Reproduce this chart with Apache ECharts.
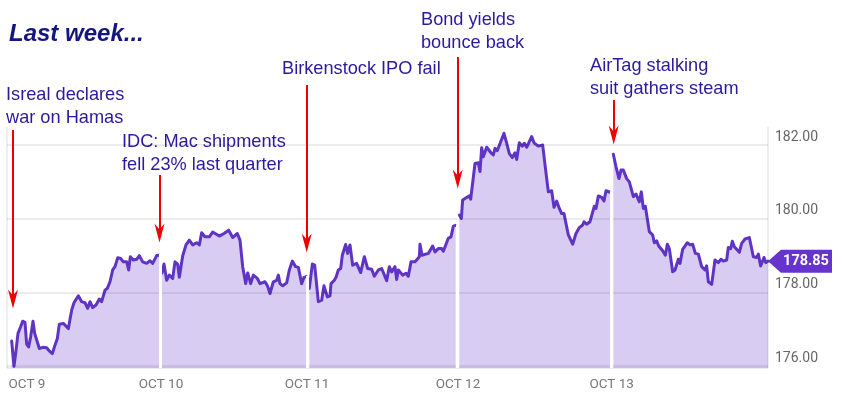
<!DOCTYPE html>
<html><head><meta charset="utf-8">
<style>html,body{margin:0;padding:0;background:#fff}#c{width:842px;height:400px}</style>
<script src="https://cdn.jsdelivr.net/npm/echarts@6/dist/echarts.min.js"></script>
</head><body><div id="c"></div>
<script>
const dayLabels = ['OCT 9','OCT 10','OCT 11','OCT 12','OCT 13'];
const dayLabelTicks = [81,483,921,1374,1835];
const priceTicks = [176,178,180,182];
const priceFloor = 175.95;
const lastPrice = 178.85;

const oct9Ticks = [35,42,47,54,62,68,75,80,86,92,99,104,110,118,128,140,147,157,165,172,178,190,205,215,222,235,245,255,263,270,278,288,298,305,315,322,330,338,345,353,362,370,380,386,391,400,410,418,428,440,450,458,470,478];
const oct9Prices = [176.68,176.00,176.34,176.89,177.07,177.22,177.19,176.60,176.52,176.80,177.22,176.89,176.84,176.48,176.51,176.50,176.42,176.34,176.57,176.75,177.14,177.16,177.02,177.52,177.72,177.91,177.75,177.72,177.57,177.75,177.59,177.66,177.82,177.75,178.06,178.11,178.29,178.61,178.70,178.94,178.92,178.83,178.83,178.61,178.97,178.88,178.90,179.00,178.83,178.79,178.86,178.79,179.00,179.01];

const oct10Ticks = [486,492,500,508,518,525,533,538,548,553,558,568,578,590,598,605,615,628,638,658,672,686,698,712,720,728,737,743,752,760,772,780,795,803,810,820,830,835,840,848,860,868,877,887,895,905,912,919];
const oct10Prices = [178.53,178.77,178.33,178.47,178.38,178.83,178.77,178.41,178.99,179.01,179.29,179.42,179.29,179.35,179.29,179.62,179.51,179.51,179.64,179.53,179.60,179.69,179.49,179.60,179.42,178.70,178.24,178.53,178.24,178.47,178.38,178.24,178.29,178.17,177.97,178.29,178.33,178.47,178.24,178.18,178.26,178.61,178.85,178.70,178.68,178.24,178.41,178.43];

const oct11Ticks = [928,937,944,955,965,972,982,990,993,1003,1008,1015,1022,1027,1037,1043,1050,1058,1070,1082,1093,1103,1115,1123,1135,1145,1160,1168,1175,1185,1190,1195,1208,1218,1225,1233,1245,1258,1260,1266,1285,1298,1305,1315,1325,1330,1345,1353,1360,1367];
const oct11Prices = [178.11,178.77,178.74,177.75,177.79,178.18,177.88,177.91,178.24,178.33,178.41,178.61,178.65,179.01,179.30,179.06,179.29,178.74,178.79,178.54,178.97,178.65,178.63,178.44,178.61,178.65,178.32,178.70,178.56,178.70,178.35,178.61,178.47,178.52,178.44,178.83,178.83,178.97,179.31,179.01,179.06,179.26,179.10,179.19,179.19,179.12,179.47,179.51,179.80,179.82];

const oct12Ticks = [1378,1384,1388,1395,1408,1412,1425,1435,1440,1445,1450,1460,1473,1480,1485,1492,1512,1520,1528,1537,1545,1550,1558,1567,1573,1580,1595,1602,1615,1628,1637,1645,1655,1662,1670,1678,1685,1692,1705,1718,1728,1738,1748,1752,1760,1770,1783,1788,1795,1805,1812,1818,1830];
const oct12Prices = [180.10,180.01,180.51,180.55,180.62,180.53,181.50,181.52,181.28,181.93,181.68,181.94,181.79,181.73,181.91,181.85,182.32,182.05,181.77,181.66,181.79,181.61,182.06,181.97,182.05,181.94,182.23,182.06,181.97,182.00,181.32,180.73,180.76,180.31,180.48,180.28,180.14,180.14,179.56,179.31,179.60,179.76,179.83,179.92,179.85,179.92,180.34,180.28,180.62,180.58,180.48,180.76,180.72];

const oct13Ticks = [1840,1848,1857,1863,1870,1880,1888,1900,1908,1918,1924,1930,1936,1948,1958,1963,1970,1976,1988,1996,2002,2008,2018,2025,2035,2040,2048,2062,2070,2078,2086,2095,2105,2115,2120,2125,2135,2145,2155,2163,2170,2180,2185,2192,2197,2203,2218,2225,2235,2248,2260,2270,2275,2282,2292,2297,2304];
const oct13Prices = [181.75,181.41,181.09,181.32,181.32,181.09,181.00,180.60,180.67,180.46,180.73,180.28,180.34,179.65,179.56,179.35,179.40,179.26,179.13,179.01,179.31,179.19,178.56,178.61,178.90,178.79,179.17,179.35,179.29,179.31,179.06,179.04,178.70,178.61,178.72,178.29,178.22,178.88,178.81,178.90,178.85,178.88,179.22,179.19,179.39,179.24,179.09,179.33,179.45,179.49,178.97,178.95,179.04,178.72,178.95,178.81,178.85];

const sessionBreaks = [482,923,1372.5,1835];
const breakTops = [179.05,178.45,179.85,180.75];

const sessions = [[oct9Ticks,oct9Prices],[oct10Ticks,oct10Prices],[oct11Ticks,oct11Prices],[oct12Ticks,oct12Prices],[oct13Ticks,oct13Prices]];
const pair = (t,p)=>t.map((x,i)=>[x,p[i]]);
const arrows = [[13,130,299],[159.5,175,233],[306.7,85,243],[457.7,57,179],[613.7,100,135]];
const notes = [
 ['Isreal declares\nwar on Hamas',6,84],
 ['IDC: Mac shipments\nfell 23% last quarter',122,131],
 ['Birkenstock IPO fail',282,58],
 ['Bond yields\nbounce back',421,9],
 ['AirTag stalking\nsuit gathers steam',590,55]
];
const arrowHead = 'path://M5 0L10 19L5 13L0 19Z';
const chart = echarts.init(document.getElementById('c'),null,{renderer:'canvas'});
const series = sessions.map(([t,p])=>({
  type:'line',data:pair(t,p),showSymbol:false,symbol:'none',smooth:false,clip:false,
  lineStyle:{color:'#5f33c4',width:3,cap:'round',join:'round'},
  areaStyle:{color:'#6633cc',opacity:0.25,origin:'start'},z:3,
  silent:true
}));
series[0].markLine = {silent:true,symbol:'none',animation:false,label:{show:false},
  lineStyle:{color:'rgba(0,0,0,0.1)',width:1.5,type:'solid'},
  data:[priceFloor,...priceTicks].map(v=>({yAxis:v}))};
series[4].markPoint = {silent:true,symbol:'path://M0 11.5L13 0H64V23H13Z',symbolSize:[64,23],symbolOffset:[32,0],
  data:[{coord:[2304,lastPrice],value:lastPrice}],
  label:{show:true,position:'inside',offset:[6,0],color:'#fff',fontFamily:'Roboto',fontWeight:'bold',fontSize:14.5,formatter:p=>p.value.toFixed(2)},
  itemStyle:{color:'#6633cc'}};
series[4].markLine = {silent:true,animation:false,label:{show:false},symbol:'none',
  data:[
    ...sessionBreaks.map((x,i)=>[
      {xAxis:x,yAxis:priceFloor,symbol:'none',lineStyle:{color:'#fff',width:3,type:'solid'}},
      {xAxis:x,yAxis:breakTops[i],symbol:'none'}]),
    ...arrows.map(([x,a,b])=>[
      {x:x,y:a,symbol:'none',lineStyle:{color:'#f00000',width:2,type:'solid'}},
      {x:x,y:b,symbol:arrowHead,symbolSize:[10,19]}])
  ]};
chart.setOption({
  animation:false,
  backgroundColor:'#fff',
  grid:{left:7,width:761,top:127,height:241},
  xAxis:{type:'value',min:21,max:2304,interval:2283,
    axisLine:{show:false},axisTick:{show:false},
    splitLine:{show:true,lineStyle:{color:'#e8e8e8',width:1.5}},
    axisLabel:{customValues:dayLabelTicks,color:'#777',fontFamily:'Roboto',fontSize:13.5,margin:10,
      formatter:v=>dayLabels[dayLabelTicks.indexOf(v)]||''}},
  yAxis:{type:'value',position:'right',min:priceFloor,max:182.49,
    axisLine:{show:false},axisTick:{show:false},splitLine:{show:false},
    axisLabel:{customValues:priceTicks,color:'#666',fontFamily:'Roboto',fontSize:14,margin:7,verticalAlign:'bottom',lineHeight:16,
      formatter:v=>v.toFixed(2)}},
  series,
  graphic:[
    {type:'text',left:9,top:22,style:{text:'Last week...',fill:'#15157f',font:'italic bold 24px "Liberation Sans"'}},
    ...notes.map(([t,x,y])=>({type:'text',left:x,top:y,style:{text:t,fill:'#2a1a9c',font:'18.2px "Liberation Sans"',lineHeight:22.5}}))
  ]
});
</script></body></html>
